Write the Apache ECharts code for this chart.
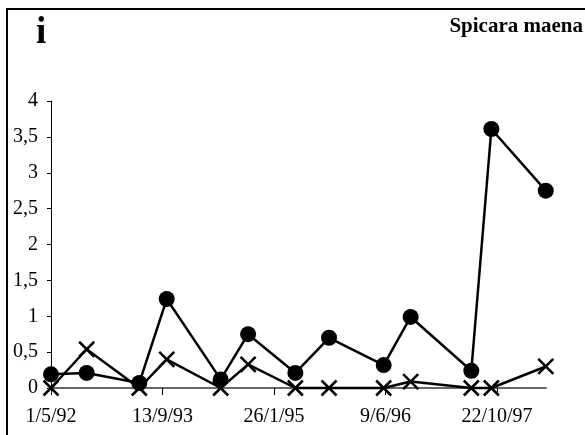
<!DOCTYPE html>
<html>
<head>
<meta charset="utf-8">
<script src="https://cdn.jsdelivr.net/npm/echarts@6/dist/echarts.min.js"></script>
<style>
  html, body { margin: 0; padding: 0; background: #fff; }
  #chart { width: 585px; height: 435px; }
</style>
</head>
<body>
<div id="chart"></div>
<script>
// sampling dates (d/m/yyyy)
const dates = ['1/5/1992', '8/10/1992', '1/6/1993', '2/10/1993', '1/6/1994', '2/10/1994',
  '2/5/1995', '30/9/1995', '1/6/1996', '30/9/1996', '29/6/1997', '27/9/1997', '29/5/1998']
const dotValues = [0.19, 0.21, 0.07, 1.24, 0.12, 0.75, 0.21, 0.7, 0.32, 0.99, 0.24, 3.61, 2.75]
const crossValues = [0, 0.54, 0, 0.4, 0, 0.33, 0, 0, 0, 0.09, 0, 0, 0.3]
const xTickDays = [0, 500, 1000, 1500, 2000]
const yTicks = [0, 0.5, 1, 1.5, 2, 2.5, 3, 3.5, 4]

const DAY = 86400000
const parse = s => {
  const [d, m, y] = s.split('/').map(Number)
  return Date.UTC(y, m - 1, d)
}
const start = parse(dates[0])
const days = dates.map(s => Math.round((parse(s) - start) / DAY))
const fmtDate = v => {
  const t = new Date(start + v * DAY)
  return t.getUTCDate() + '/' + (t.getUTCMonth() + 1) + '/' + String(t.getUTCFullYear()).slice(2)
}

const font = 'Liberation Serif'
const chart = echarts.init(document.getElementById('chart'))
chart.setOption({
  animation: false,
  textStyle: { fontFamily: font },
  graphic: [
    {
      type: 'rect',
      shape: { x: 7, y: 9, width: 640, height: 500 },
      style: { fill: 'none', stroke: '#000', lineWidth: 2 },
    },
    {
      type: 'text',
      left: 36,
      top: 15,
      style: { text: 'i', font: 'bold 37px "Liberation Serif"', fill: '#000' },
    },
    {
      type: 'text',
      right: 2,
      top: 16,
      style: { text: 'Spicara maena', font: 'bold 21px "Liberation Serif"', fill: '#000' },
    },
  ],
  grid: {
    left: 51,
    right: 39,
    top: 101,
    bottom: 47,
  },
  xAxis: {
    type: 'value',
    min: 0,
    max: 2220,
    interval: 500,
    splitLine: { show: false },
    axisLine: { lineStyle: { color: '#666', width: 2 } },
    axisTick: {
      customValues: xTickDays,
      length: 7,
      lineStyle: { color: '#000', width: 1 },
    },
    axisLabel: {
      customValues: xTickDays,
      formatter: fmtDate,
      color: '#000',
      fontSize: 20,
      fontFamily: font,
      margin: 19,
    },
  },
  yAxis: {
    type: 'value',
    min: yTicks[0],
    max: yTicks[yTicks.length - 1],
    interval: 0.5,
    splitLine: { show: false },
    axisLine: { show: true, lineStyle: { color: '#000', width: 1 } },
    axisTick: { show: true, length: 4, lineStyle: { color: '#000' } },
    axisLabel: {
      formatter: v => String(v).replace('.', ','),
      color: '#000',
      fontSize: 20,
      fontFamily: font,
      margin: 13,
    },
  },
  series: [
    {
      type: 'line',
      clip: false,
      data: days.map((d, i) => [d, crossValues[i]]),
      symbol: 'path://M0,0L10,10M10,0L0,10',
      symbolSize: 15,
      lineStyle: { color: '#000', width: 2.5 },
      itemStyle: { color: '#000', borderColor: '#000', borderWidth: 2.5 },
    },
    {
      type: 'line',
      clip: false,
      data: days.map((d, i) => [d, dotValues[i]]),
      symbol: 'circle',
      symbolSize: 16,
      lineStyle: { color: '#000', width: 2.5 },
      itemStyle: { color: '#000' },
    },
  ],
})
</script>
</body>
</html>
